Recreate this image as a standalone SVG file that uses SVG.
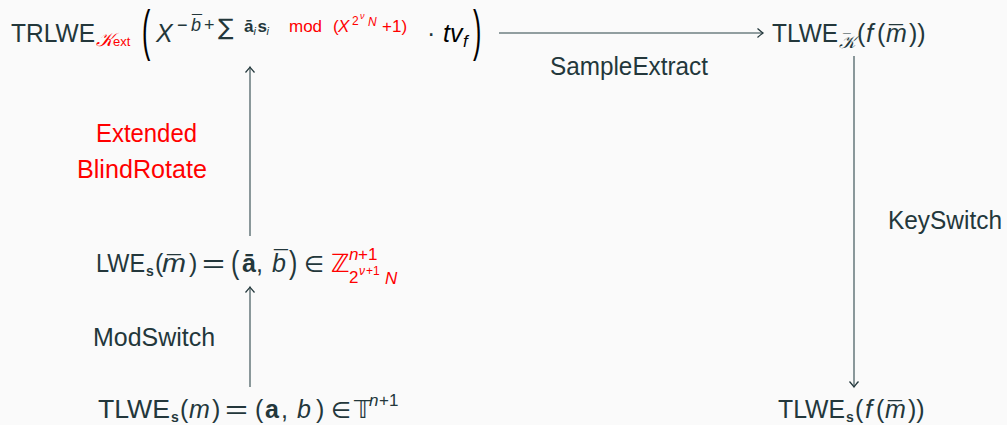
<svg xmlns="http://www.w3.org/2000/svg" width="1007" height="425" viewBox="0 0 1007 425">
<style>
.t{font-family:"Liberation Sans","DejaVu Sans",sans-serif;fill:#23373b;font-size:25px}
.r{fill:#ff0000}
.i{font-style:italic}
.b{font-weight:bold}
.k{fill:#000}
.m{font-family:"DejaVu Sans","Liberation Sans",sans-serif}
.edge{stroke:#6e7f82;stroke-width:1.6;fill:none}
</style>
<defs>
<marker id="ah" markerUnits="userSpaceOnUse" markerWidth="14" markerHeight="14" viewBox="-8 -7 10 14" refX="0" refY="0" orient="auto">
<path d="M-5.5,-4.5 Q-1.5,-1 0,0 Q-1.5,1 -5.5,4.5" stroke="#23373b" stroke-width="1.3" fill="none"/>
</marker>
</defs>
<rect width="1007" height="425" fill="#fafafa"/>

<g id="connectors">
<line class="edge" x1="499" y1="33" x2="763" y2="33" marker-end="url(#ah)"/>
<line class="edge" x1="854" y1="56" x2="854" y2="387" marker-end="url(#ah)"/>
<line class="edge" x1="250" y1="236" x2="250" y2="67" marker-end="url(#ah)"/>
<line class="edge" x1="250" y1="387" x2="250" y2="287" marker-end="url(#ah)"/>
</g>

<g id="label-sampleextract"><text class="t" x="550" y="75" textLength="158" lengthAdjust="spacingAndGlyphs">SampleExtract</text></g>
<g id="label-keyswitch"><text class="t" x="888" y="229" textLength="114" lengthAdjust="spacingAndGlyphs">KeySwitch</text></g>
<g id="label-blindrotate"><text class="t r" x="96" y="142" textLength="101" lengthAdjust="spacingAndGlyphs">Extended</text><text class="t r" x="77" y="178" textLength="130" lengthAdjust="spacingAndGlyphs">BlindRotate</text></g>
<g id="label-modswitch"><text class="t" x="93" y="346" textLength="122" lengthAdjust="spacingAndGlyphs">ModSwitch</text></g>

<g id="node-trlwe">
<text class="t">
<tspan x="11" y="42" textLength="84" lengthAdjust="spacingAndGlyphs">TRLWE</tspan>
<tspan class="r i m" x="96" y="46" font-size="19">𝒦</tspan>
<tspan class="r" x="113" y="46" font-size="13">ext</tspan>
<tspan class="i" x="156" y="42">X</tspan>
<tspan font-size="18" x="177" y="31">−</tspan>
<tspan class="i" font-size="18" x="191" y="31">b</tspan>
<tspan font-size="18" x="192" y="28">¯</tspan>
<tspan font-size="18" x="204" y="31">+</tspan>
<tspan class="m" font-size="23" x="218" y="35">∑</tspan>
<tspan class="b" font-size="17" x="244" y="32">ā</tspan>
<tspan class="i" font-size="11" x="253.5" y="35">i</tspan>
<tspan class="b" font-size="17" x="257.5" y="32">s</tspan>
<tspan class="i" font-size="11" x="266.5" y="35">i</tspan>
<tspan class="r" font-size="17" x="289" y="32">mod</tspan>
<tspan class="r" font-size="17" x="333" y="32">(</tspan>
<tspan class="r i" font-size="17" x="338" y="32">X</tspan>
<tspan class="r" font-size="12" x="352" y="25">2</tspan>
<tspan class="r i" font-size="9" x="360" y="19">ν</tspan>
<tspan class="r i" font-size="12" x="368" y="26">N</tspan>
<tspan class="r" font-size="17" x="382" y="32">+1)</tspan>
<tspan x="427" y="42">·</tspan>
<tspan class="i k" x="443" y="42">tv</tspan>
<tspan class="i k" font-size="17" x="463" y="47">f</tspan>
</text>
<text class="t k" transform="translate(142,49) scale(1,2.25)">(</text>
<text class="t k" transform="translate(473,49) scale(1,2.25)">)</text>
</g>

<g id="node-tlwe-kbar">
<text class="t">
<tspan x="772" y="42" textLength="66" lengthAdjust="spacingAndGlyphs">TLWE</tspan>
<tspan class="i m" font-size="18" x="839" y="48">𝒦</tspan>
<tspan font-size="14" x="843" y="44">¯</tspan>
<tspan x="857" y="42">(</tspan>
<tspan class="i" font-size="26" x="866" y="42">f</tspan>
<tspan x="877" y="42">(</tspan>
<tspan class="i" x="886" y="42">m</tspan>
<tspan x="889" y="44">¯</tspan>
<tspan x="909" y="42">))</tspan>
</text>
</g>

<g id="node-tlwe-s-f">
<text class="t">
<tspan x="778" y="418" textLength="67" lengthAdjust="spacingAndGlyphs">TLWE</tspan>
<tspan class="b" font-size="14" x="846" y="422">s</tspan>
<tspan x="855" y="418">(</tspan>
<tspan class="i" font-size="26" x="865" y="418">f</tspan>
<tspan x="876" y="418">(</tspan>
<tspan class="i" x="885" y="418">m</tspan>
<tspan x="888" y="420">¯</tspan>
<tspan x="908" y="418">))</tspan>
</text>
</g>

<g id="node-lwe">
<text class="t">
<tspan x="96" y="272" textLength="49" lengthAdjust="spacingAndGlyphs">LWE</tspan>
<tspan class="b" font-size="14" x="146" y="276">s</tspan>
<tspan x="155" y="272">(</tspan>
<tspan class="i" x="162" y="272" textLength="24" lengthAdjust="spacingAndGlyphs">m</tspan>
<tspan x="167" y="274">¯</tspan>
<tspan x="189" y="272">)</tspan>
<tspan x="202" y="272" textLength="23" lengthAdjust="spacingAndGlyphs">=</tspan>
<tspan class="b" x="242" y="272">ā</tspan>
<tspan x="256" y="272">,</tspan>
<tspan class="i" x="272" y="272">b</tspan>
<tspan x="274" y="269">¯</tspan>
<tspan class="m" font-size="23" x="304" y="272">∈</tspan>
<tspan class="r m" x="331" y="272">ℤ</tspan>
<tspan class="r i" font-size="17" x="349" y="260">n</tspan>
<tspan class="r" font-size="17" x="358" y="260">+1</tspan>
<tspan class="r" font-size="17" x="349" y="283">2</tspan>
<tspan class="r i" font-size="12" x="359" y="275">ν</tspan>
<tspan class="r" font-size="12" x="366" y="275">+1</tspan>
<tspan class="r i" font-size="17" x="385" y="284">N</tspan>
</text>
<text class="t" transform="translate(231,273) scale(1,1.25)">(</text>
<text class="t" transform="translate(289,273) scale(1,1.25)">)</text>
</g>

<g id="node-tlwe-s-m">
<text class="t">
<tspan x="98" y="418" textLength="72" lengthAdjust="spacingAndGlyphs">TLWE</tspan>
<tspan class="b" font-size="14" x="171" y="422">s</tspan>
<tspan x="180" y="418">(</tspan>
<tspan class="i" x="189" y="418">m</tspan>
<tspan x="212" y="418">)</tspan>
<tspan x="225" y="418" textLength="23" lengthAdjust="spacingAndGlyphs">=</tspan>
<tspan x="255" y="418">(</tspan>
<tspan class="b" x="265" y="418">a</tspan>
<tspan x="281" y="418">,</tspan>
<tspan class="i" x="297" y="418">b</tspan>
<tspan x="316" y="418">)</tspan>
<tspan class="m" font-size="23" x="331" y="418">∈</tspan>
<tspan class="m" x="354" y="418">𝕋</tspan>
<tspan class="i" font-size="17" x="369" y="406">n</tspan>
<tspan font-size="17" x="379" y="406">+1</tspan>
</text>
</g>
</svg>
